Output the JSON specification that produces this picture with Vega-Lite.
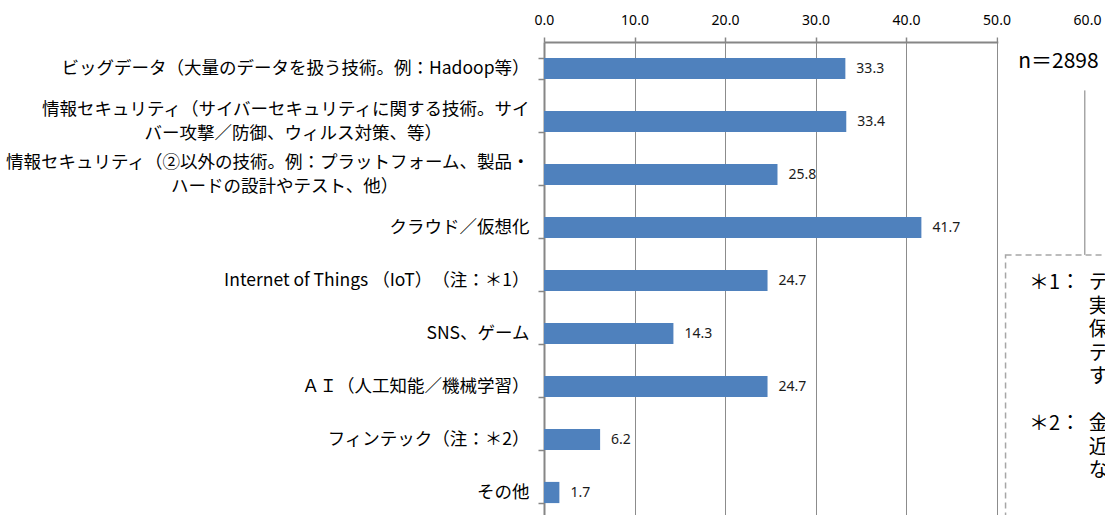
{
  "$schema": "https://vega.github.io/schema/vega-lite/v6.json",
  "width": 543,
  "height": 477,
  "autosize": {"type": "none"},
  "padding": {"left": 544, "top": 42, "right": 18, "bottom": 0},
  "background": "white",
  "config": {"view": {"stroke": null}, "font": "Noto Sans CJK JP"},
  "datasets": {
    "bars": [
      {"item": "ビッグデータ（大量のデータを扱う技術。例：Hadoop等）", "pct": 33.3},
      {"item": "情報セキュリティ（サイバーセキュリティに関する技術。サイ\nバー攻撃／防御、ウィルス対策、等）　　　　　\u2002\u2060", "pct": 33.4},
      {"item": "情報セキュリティ（②以外の技術。例：プラットフォーム、製品・\nハードの設計やテスト、他）　　　　　　　　\u2060", "pct": 25.8},
      {"item": "クラウド／仮想化", "pct": 41.7},
      {"item": "Internet of Things （IoT）　（注：＊1）", "pct": 24.7},
      {"item": "SNS、ゲーム", "pct": 14.3},
      {"item": "ＡＩ（人工知能／機械学習）", "pct": 24.7},
      {"item": "フィンテック（注：＊2）", "pct": 6.2},
      {"item": "その他", "pct": 1.7}
    ],
    "noteMarks": [
      {"mark": "＊1：", "line": 0},
      {"mark": "＊2：", "line": 6}
    ],
    "noteBody": [
      {"text": "テ", "line": 0},
      {"text": "実", "line": 1},
      {"text": "保", "line": 2},
      {"text": "テ", "line": 3},
      {"text": "す", "line": 4},
      {"text": "金", "line": 6},
      {"text": "近", "line": 7},
      {"text": "な", "line": 8}
    ],
    "sample": [{"label": "n＝2898"}]
  },
  "layer": [
    {
      "data": {"name": "bars"},
      "encoding": {
        "y": {
          "field": "item",
          "type": "nominal",
          "sort": null,
          "scale": {"paddingInner": 0.6, "paddingOuter": 0.3},
          "axis": {
            "title": null,
            "domainColor": "#868686",
            "domainWidth": 2,
            "tickColor": "#868686",
            "tickSize": 6,
            "tickWidth": 1.5,
            "tickBand": "extent",
            "labelFont": "Noto Sans CJK JP",
            "labelFontSize": 17.5,
            "labelColor": "#000000",
            "labelPadding": 9,
            "labelLimit": 700,
            "labelLineHeight": 24,
            "labelOffset": {"condition": {"test": "isValid(datum.value) && indexof(datum.value, '\\n') >= 0", "value": -12}, "value": 0},
            "labelExpr": "isValid(datum.value) ? split(datum.value, '\\n') : ''",
            "grid": false
          }
        },
        "x": {
          "field": "pct",
          "type": "quantitative",
          "scale": {"domain": [0, 60], "nice": false, "zero": true},
          "axis": {
            "orient": "top",
            "title": null,
            "values": [0, 10, 20, 30, 40, 50, 60],
            "format": ".1f",
            "labelFont": "Noto Sans",
            "labelFontSize": 14,
            "labelColor": "#000000",
            "labelFlush": false,
            "labelOverlap": false,
            "labelPadding": 10,
            "domainColor": "#868686",
            "domainWidth": 2,
            "tickColor": "#868686",
            "tickSize": 5,
            "tickWidth": 1.5,
            "grid": true,
            "gridColor": "#8c8c8c",
            "gridWidth": 1
          }
        }
      },
      "layer": [
        {"mark": {"type": "bar", "color": "#4F81BD"}},
        {
          "mark": {"type": "text", "align": "left", "baseline": "middle", "dx": 11, "font": "Noto Sans", "fontSize": 14, "color": "#1a1a1a"},
          "encoding": {"text": {"field": "pct", "type": "quantitative", "format": ".1f"}}
        }
      ]
    },
    {
      "layer": [
        {
          "data": {"values": [{}]},
          "mark": {"type": "rect", "color": "white"},
          "encoding": {
            "x": {"datum": 50.2, "type": "quantitative"},
            "x2": {"datum": 65},
            "y": {"datum": -10.5, "type": "quantitative", "scale": {"domain": [-10.26, 10.04], "reverse": true, "nice": false, "zero": false}, "axis": null},
            "y2": {"datum": 12}
          }
        },
        {
          "data": {"values": [{}]},
          "mark": {"type": "rule", "color": "#a6a6a6", "strokeWidth": 1.5},
          "encoding": {
            "x": {"datum": 59.75, "type": "quantitative"},
            "y": {"datum": -8.2, "type": "quantitative", "scale": {"domain": [-10.26, 10.04], "reverse": true, "nice": false, "zero": false}, "axis": null},
            "y2": {"datum": -1.2}
          }
        },
        {
          "data": {"values": [{}]},
          "mark": {"type": "rect", "filled": false, "stroke": "#a6a6a6", "strokeWidth": 1.5, "strokeDash": [6, 4]},
          "encoding": {
            "x": {"datum": 51.0, "type": "quantitative"},
            "x2": {"datum": 65},
            "y": {"datum": -1.2, "type": "quantitative", "scale": {"domain": [-10.26, 10.04], "reverse": true, "nice": false, "zero": false}, "axis": null},
            "y2": {"datum": 12}
          }
        },
        {
          "data": {"name": "sample"},
          "mark": {"type": "text", "align": "left", "baseline": "middle", "font": "Noto Sans CJK JP", "fontSize": 21, "color": "#000000"},
          "encoding": {
            "x": {"datum": 52.4, "type": "quantitative"},
            "y": {"datum": -9.4, "type": "quantitative", "scale": {"domain": [-10.26, 10.04], "reverse": true, "nice": false, "zero": false}, "axis": null},
            "text": {"field": "label"}
          }
        },
        {
          "data": {"name": "noteMarks"},
          "mark": {"type": "text", "align": "left", "baseline": "middle", "font": "Noto Sans CJK JP", "fontSize": 20, "color": "#000000"},
          "encoding": {
            "x": {"datum": 53.6, "type": "quantitative"},
            "y": {"field": "line", "type": "quantitative", "scale": {"domain": [-10.26, 10.04], "reverse": true, "nice": false, "zero": false}, "axis": null},
            "text": {"field": "mark"}
          }
        },
        {
          "data": {"name": "noteBody"},
          "mark": {"type": "text", "align": "left", "baseline": "middle", "font": "Noto Sans CJK JP", "fontSize": 20, "color": "#000000"},
          "encoding": {
            "x": {"datum": 60.2, "type": "quantitative"},
            "y": {"field": "line", "type": "quantitative", "scale": {"domain": [-10.26, 10.04], "reverse": true, "nice": false, "zero": false}, "axis": null},
            "text": {"field": "text"}
          }
        }
      ]
    }
  ],
  "resolve": {"scale": {"y": "independent"}, "axis": {"y": "independent"}}
}
